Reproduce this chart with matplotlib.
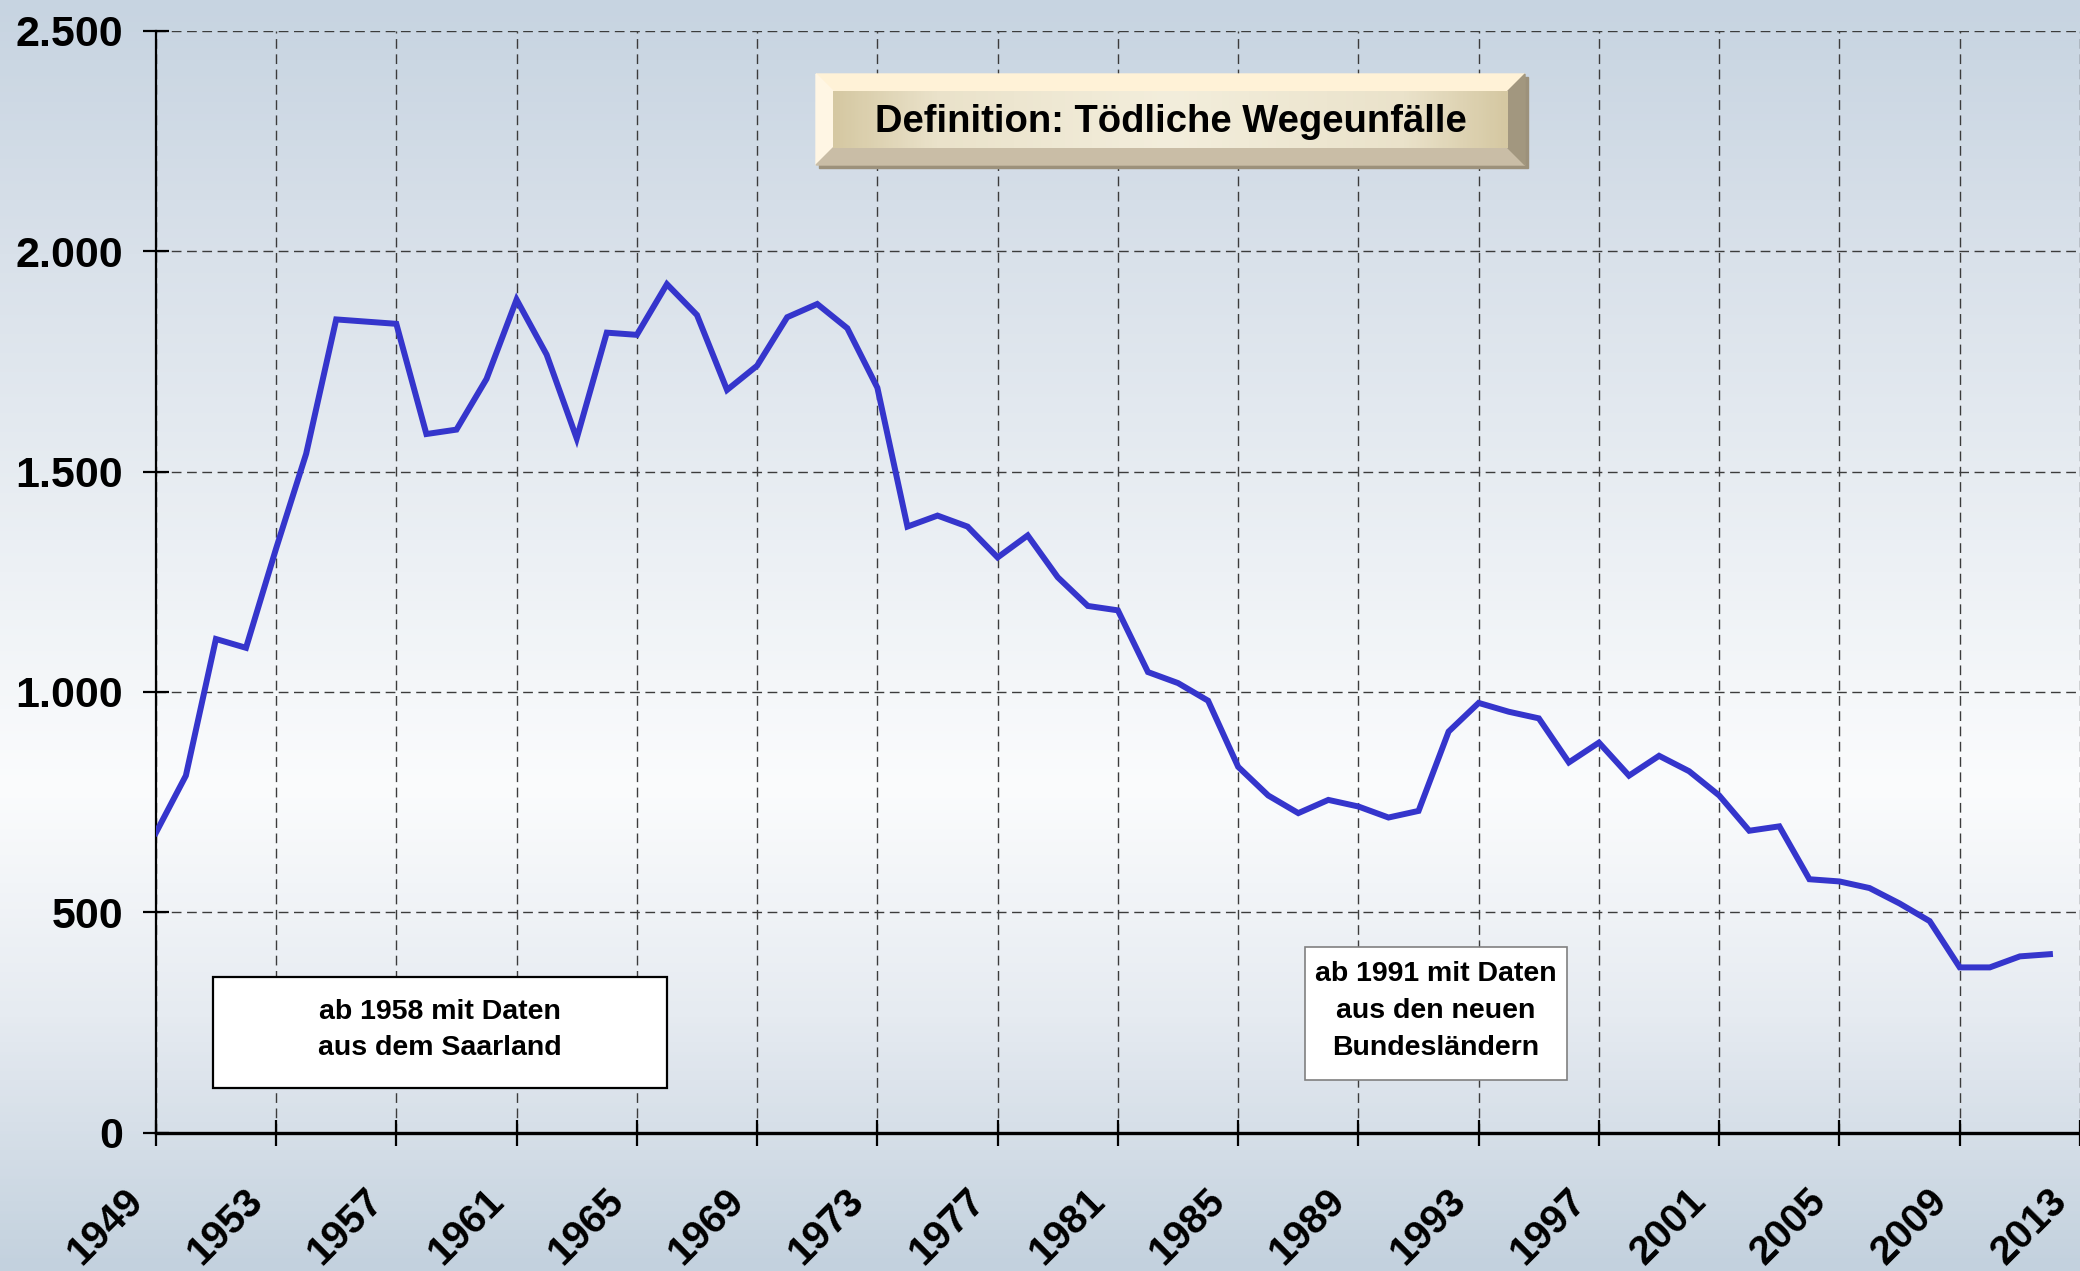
import numpy as np
import matplotlib.pyplot as plt
from matplotlib.patches import Rectangle, Polygon
from matplotlib.colors import LinearSegmentedColormap
from matplotlib.ticker import FuncFormatter
from matplotlib.transforms import ScaledTranslation

years = list(range(1949, 2013))
deaths = [680, 810, 1120, 1100, 1325, 1540, 1845, 1840, 1835, 1585,
          1595, 1710, 1890, 1765, 1575, 1815, 1810, 1925, 1855, 1685,
          1740, 1850, 1880, 1825, 1690, 1375, 1400, 1375, 1305, 1355,
          1260, 1195, 1185, 1045, 1020, 980, 830, 765, 725, 755,
          740, 715, 730, 910, 975, 955, 940, 840, 885, 810,
          855, 820, 765, 685, 695, 575, 570, 555, 520, 480,
          375, 375, 400, 405]
xticks = list(range(1949, 2014, 4))
yticks = [0, 500, 1000, 1500, 2000, 2500]

title_txt = 'Definition: Tödliche Wegeunfälle'
note1 = ['ab 1958 mit Daten', 'aus dem Saarland']
note2 = ['ab 1991 mit Daten', 'aus den neuen', 'Bundesländern']

plt.rcParams['font.family'] = ['Liberation Sans', 'DejaVu Sans']

W, H = 2080, 1271
fig = plt.figure(figsize=(W / 100, H / 100), dpi=100)

# background gradient
bg = fig.add_axes([0, 0, 1, 1], zorder=0)
bg_cmap = LinearSegmentedColormap.from_list('bg', [
    (0.0, '#C7D4E1'), (0.2, '#D9E1EA'), (0.45, '#EDF1F5'),
    (0.62, '#FBFCFD'), (0.8, '#E6EBF1'), (1.0, '#C3D1DE')])
bg.imshow(np.linspace(0, 1, 400).reshape(-1, 1), aspect='auto', cmap=bg_cmap,
          extent=[0, 1, 1, 0])
bg.set_axis_off()

# main chart
ax = fig.add_axes([155.8 / W, 1 - 1132.7 / H, 1 - 155.8 / W, (1132.7 - 30.7) / H], zorder=1)
ax.set_facecolor('none')
ax.plot(years, deaths, color='#3535CC', lw=4.3, solid_joinstyle='miter', zorder=3)
ax.set_xlim(1949, 2013)
ax.set_ylim(0, 2500)
ax.set_xticks(xticks)
ax.set_yticks(yticks)
ax.yaxis.set_major_formatter(FuncFormatter(lambda v, p: f'{int(v):,}'.replace(',', '.')))
ax.grid(True, color='#3c3c3c', lw=1.0, linestyle=(0, (7, 4)))
for s in ['top', 'right']:
    ax.spines[s].set_visible(False)
ax.spines['left'].set_linewidth(1.6)
ax.spines['bottom'].set_linewidth(2.4)
ax.tick_params(axis='both', direction='inout', length=19, width=1.6, color='black')
ax.tick_params(axis='y', pad=14, labelsize=31)
ax.tick_params(axis='x', pad=35, labelsize=29)
for lbl in ax.get_yticklabels():
    lbl.set_fontweight('bold')
shift = ScaledTranslation(-0.19, 0, fig.dpi_scale_trans)
for lbl in ax.get_xticklabels():
    lbl.set_fontweight('bold')
    lbl.set_rotation(45)
    lbl.set_rotation_mode('anchor')
    lbl.set_ha('right')
    lbl.set_va('center')
    lbl.set_transform(lbl.get_transform() + shift)

# overlay in pixel coordinates for boxes
ov = fig.add_axes([0, 0, 1, 1], zorder=2)
ov.set_xlim(0, W)
ov.set_ylim(H, 0)
ov.set_axis_off()

x0, x1, y0, y1, b = 816, 1525, 74, 165, 17
ov.add_patch(Rectangle((x0 + 3, y0 + 3), x1 - x0, y1 - y0, color='#9C917B'))
ov.add_patch(Polygon([(x0, y0), (x1, y0), (x1 - b, y0 + b), (x0 + b, y0 + b)], color='#FFF2D7'))
ov.add_patch(Polygon([(x0, y0), (x0 + b, y0 + b), (x0 + b, y1 - b), (x0, y1)], color='#FFF6E4'))
ov.add_patch(Polygon([(x0, y1), (x0 + b, y1 - b), (x1 - b, y1 - b), (x1, y1)], color='#C9BDA6'))
ov.add_patch(Polygon([(x1, y0), (x1, y1), (x1 - b, y1 - b), (x1 - b, y0 + b)], color='#A2977F'))
face_cmap = LinearSegmentedColormap.from_list('face', [
    (0.0, '#D5C8A2'), (0.15, '#EAE2CA'), (0.5, '#F3EEDC'), (0.85, '#EAE2CA'), (1.0, '#D5C8A2')])
ov.imshow(np.linspace(0, 1, 300).reshape(1, -1), aspect='auto', cmap=face_cmap,
          extent=[x0 + b, x1 - b, y1 - b, y0 + b], zorder=2)
ov.text((x0 + x1) / 2, (y0 + y1) / 2 + 3, title_txt, ha='center', va='center',
        fontsize=27.5, fontweight='bold', zorder=3)

ov.add_patch(Rectangle((213, 977), 454, 111, facecolor='white', edgecolor='black', lw=1.6))
for i, t in enumerate(note1):
    ov.text(440, 1012 + i * 36, t, ha='center', va='center', fontsize=20.5, fontweight='bold')

ov.add_patch(Rectangle((1305, 947), 262, 133, facecolor='white', edgecolor='#808080', lw=1.2))
for i, t in enumerate(note2):
    ov.text(1436, 974 + i * 37, t, ha='center', va='center', fontsize=20.5, fontweight='bold')

fig.savefig('out.png', dpi=100)
